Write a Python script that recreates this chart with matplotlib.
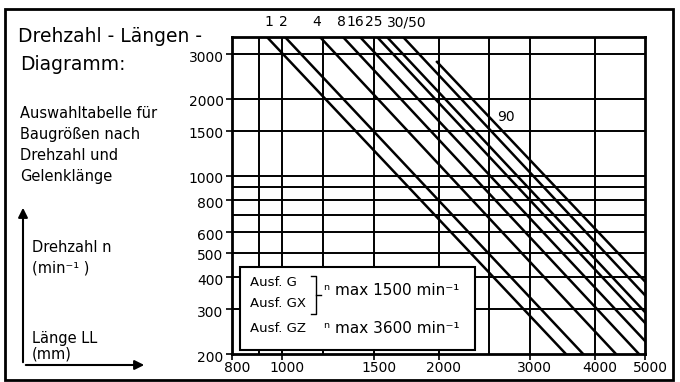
import matplotlib
matplotlib.use('Agg')
import matplotlib.pyplot as plt
import matplotlib.transforms as mtransforms
from matplotlib.patches import Rectangle, FancyArrowPatch
from matplotlib.lines import Line2D

plt.rcParams['font.family'] = ['DejaVu Sans']

# axis values
x_ticks = [800, 1000, 1500, 2000, 3000, 4000, 5000]
x_grid = [900, 1000, 1200, 1500, 2000, 2500, 3000, 4000]
y_ticks = [200, 300, 400, 500, 600, 800, 1000, 1500, 2000, 3000]
y_grid = [300, 400, 500, 600, 700, 800, 900, 1000, 1500, 2000, 3000]

# diagonal lines (Laenge LL, Drehzahl n), start -> end
line_L0 = [934, 1012, 1182, 1309, 1412, 1523, 1591, 1709, 1987]
line_n0 = [3500, 3500, 3500, 3500, 3500, 3500, 3500, 3500, 2795]
line_L1 = [3520, 3800, 4396, 4868, 5000, 5000, 5000, 5000, 5000]
line_n1 = [200, 200, 200, 200, 225, 265, 292, 340, 385]

# size labels on top
size_labels = ['1', '2', '4', '8', '16', '25', '30/50']
size_label_L = [942, 1003, 1166, 1302, 1380, 1500, 1738]
label_90 = '90'
label_90_L, label_90_n = 2700, 1700

W, H = 680, 382
fig = plt.figure(figsize=(6.8, 3.82), dpi=100)
fig.patch.set_facecolor('white')

def fx(px):
    return px / W

def fy(py):
    return 1 - py / H

ax = fig.add_axes([fx(232), fy(354), fx(645) - fx(232), fy(37) - fy(354)])
ax.set_xscale('log')
ax.set_yscale('log')
ax.set_xlim(800, 5000)
ax.set_ylim(200, 3500)

for v in x_grid:
    ax.axvline(v, color='black', lw=1.4, zorder=1)
for v in y_grid:
    ax.axhline(v, color='black', lw=1.4, zorder=1)

for L0, n0, L1, n1 in zip(line_L0, line_n0, line_L1, line_n1):
    ax.plot([L0, L1], [n0, n1], color='black', lw=1.8, zorder=2)

ax.set_xticks(x_ticks)
ax.set_xticklabels([str(v) for v in x_ticks])
ax.set_yticks(y_ticks)
ax.set_yticklabels([str(v) for v in y_ticks])
ax.minorticks_off()
ax.tick_params(axis='both', labelsize=10, length=4, width=1.2, color='black')
ax.tick_params(axis='x', pad=1)
ax.tick_params(axis='y', pad=2)
for s in ax.spines.values():
    s.set_linewidth(2)

# labels sit a little right / below their ticks in the original
dx = mtransforms.ScaledTranslation(5 / 100, 0, fig.dpi_scale_trans)
dy = mtransforms.ScaledTranslation(0, -2 / 100, fig.dpi_scale_trans)
for lab in ax.get_xticklabels():
    lab.set_transform(lab.get_transform() + dx)
for lab in ax.get_yticklabels():
    lab.set_transform(lab.get_transform() + dy)

# size labels above the plot
for t, L in zip(size_labels, size_label_L):
    ax.text(L, 1.047, t, transform=ax.get_xaxis_transform(), ha='center', va='center', fontsize=10)
ax.text(label_90_L, label_90_n, label_90, ha='center', va='center', fontsize=10, zorder=3)

# info box inside the plot
ax.add_patch(Rectangle((0.019, 0.013), 0.569, 0.262, transform=ax.transAxes,
                       facecolor='white', edgecolor='black', lw=1.5, zorder=4))
ax.text(0.044, 0.224, 'Ausf. G', transform=ax.transAxes, fontsize=9.5, va='center', zorder=5)
ax.text(0.044, 0.158, 'Ausf. GX', transform=ax.transAxes, fontsize=9.5, va='center', zorder=5)
ax.text(0.044, 0.082, 'Ausf. GZ', transform=ax.transAxes, fontsize=9.5, va='center', zorder=5)
bx = [0.192, 0.203, 0.203, 0.192]
by = [0.245, 0.245, 0.125, 0.125]
ax.add_line(Line2D(bx, by, transform=ax.transAxes, color='black', lw=1.0, zorder=5))
ax.add_line(Line2D([0.203, 0.215], [0.185, 0.185], transform=ax.transAxes, color='black', lw=1.0, zorder=5))
ax.text(0.222, 0.200, 'ⁿ max 1500 min⁻¹', transform=ax.transAxes, fontsize=11, va='center', zorder=5)
ax.text(0.222, 0.082, 'ⁿ max 3600 min⁻¹', transform=ax.transAxes, fontsize=11, va='center', zorder=5)

# left side texts
fig.text(fx(18), fy(36), 'Drehzahl - Längen -', fontsize=13.5, va='center')
fig.text(fx(20), fy(64), 'Diagramm:', fontsize=13.5, va='center')
for i, t in enumerate(['Auswahltabelle für', 'Baugrößen nach', 'Drehzahl und', 'Gelenklänge']):
    fig.text(fx(20), fy(113 + 21 * i), t, fontsize=10.5, va='center')
fig.text(fx(32), fy(248), 'Drehzahl n', fontsize=10.5, va='center')
fig.text(fx(32), fy(268), '(min⁻¹ )', fontsize=10.5, va='center')
fig.text(fx(32), fy(338), 'Länge LL', fontsize=10.5, va='center')
fig.text(fx(32), fy(354), '(mm)', fontsize=10.5, va='center')

# arrows
fig.add_artist(FancyArrowPatch((fx(23), fy(365)), (fx(23), fy(205)), transform=fig.transFigure,
                               arrowstyle='-|>', mutation_scale=14, color='black', lw=1.5))
fig.add_artist(FancyArrowPatch((fx(23), fy(365)), (fx(147), fy(365)), transform=fig.transFigure,
                               arrowstyle='-|>', mutation_scale=14, color='black', lw=1.5))

# outer frame
fig.add_artist(Rectangle((fx(5), fy(380)), fx(673) - fx(5), fy(9) - fy(380), transform=fig.transFigure,
                         facecolor='none', edgecolor='black', lw=2))

fig.savefig('out.png', dpi=100)
